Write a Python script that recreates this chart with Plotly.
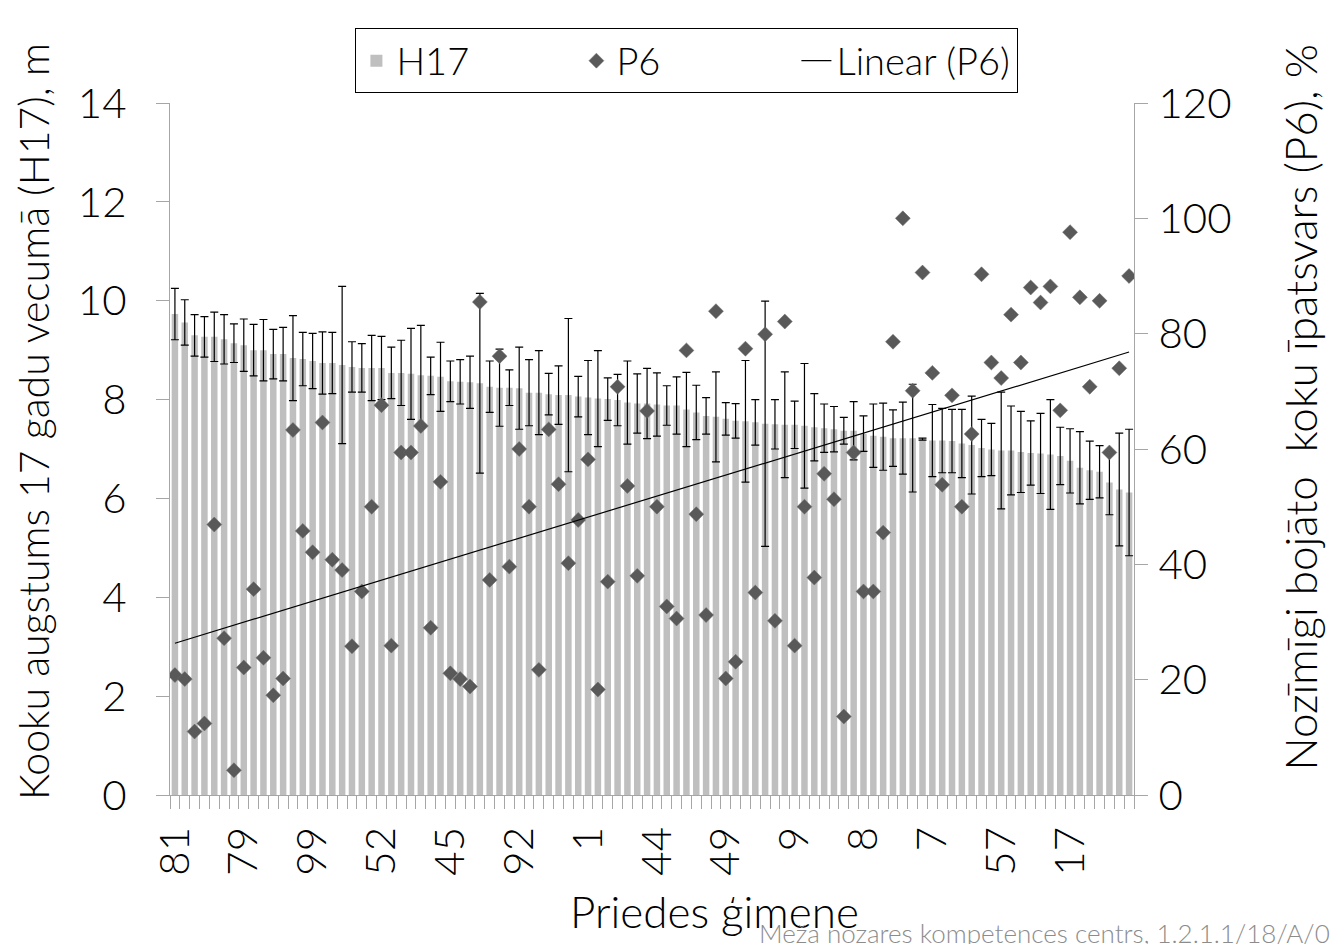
import numpy as np
import plotly.graph_objects as go

# ---- data ----
h17 = [9.73, 9.56, 9.30, 9.27, 9.27, 9.22, 9.14, 9.10, 9.00, 9.00,
       8.92, 8.92, 8.84, 8.82, 8.78, 8.74, 8.74, 8.70, 8.66, 8.64,
       8.64, 8.64, 8.54, 8.54, 8.52, 8.49, 8.48, 8.46, 8.37, 8.36,
       8.35, 8.33, 8.26, 8.24, 8.24, 8.23, 8.14, 8.14, 8.11, 8.09,
       8.09, 8.06, 8.04, 8.02, 8.01, 7.99, 7.94, 7.92, 7.92, 7.90,
       7.88, 7.88, 7.80, 7.74, 7.67, 7.65, 7.61, 7.57, 7.56, 7.54,
       7.51, 7.50, 7.49, 7.49, 7.47, 7.44, 7.42, 7.40, 7.37, 7.37,
       7.31, 7.27, 7.25, 7.22, 7.22, 7.22, 7.20, 7.17, 7.17, 7.16,
       7.11, 7.08, 7.02, 6.99, 6.97, 6.97, 6.94, 6.92, 6.91, 6.89,
       6.86, 6.76, 6.62, 6.57, 6.54, 6.32, 6.18, 6.12]

h17_err = [0.52, 0.46, 0.42, 0.41, 0.50, 0.50, 0.39, 0.53, 0.52, 0.62,
           0.50, 0.54, 0.86, 0.54, 0.56, 0.63, 0.62, 1.59, 0.51, 0.49,
           0.66, 0.64, 0.52, 0.66, 0.92, 1.01, 0.38, 0.70, 0.41, 0.45,
           0.53, 1.82, 0.52, 0.78, 0.36, 0.83, 0.67, 0.85, 0.42, 0.59,
           1.55, 0.41, 0.75, 0.97, 0.43, 0.52, 0.84, 0.60, 0.71, 0.64,
           0.40, 0.58, 0.75, 0.55, 0.37, 0.91, 0.33, 0.35, 1.23, 0.46,
           2.48, 0.50, 1.07, 0.48, 1.26, 0.68, 0.49, 0.46, 0.27, 0.59,
           0.36, 0.64, 0.68, 0.57, 0.73, 1.09, 0.02, 0.73, 0.65, 0.64,
           0.69, 0.99, 0.58, 0.53, 1.18, 0.90, 0.82, 0.65, 0.81, 1.11,
           0.58, 0.65, 0.73, 0.59, 0.53, 0.65, 1.14, 1.28]

p6 = [20.8, 20.1, 11.0, 12.4, 46.9, 27.2, 4.3, 22.1, 35.7, 23.8,
      17.3, 20.2, 63.3, 45.8, 42.1, 64.6, 40.8, 39.0, 25.8, 35.3,
      50.0, 67.6, 25.9, 59.4, 59.4, 64.0, 29.0, 54.3, 21.1, 20.1,
      18.8, 85.5, 37.3, 76.1, 39.6, 60.0, 50.0, 21.7, 63.4, 53.9,
      40.2, 47.7, 58.2, 18.3, 37.0, 70.8, 53.6, 38.0, 66.6, 50.0,
      32.7, 30.6, 77.1, 48.7, 31.2, 83.9, 20.2, 23.1, 77.4, 35.1,
      79.9, 30.2, 82.1, 25.9, 50.0, 37.7, 55.7, 51.3, 13.6, 59.4,
      35.3, 35.3, 45.5, 78.6, 100.0, 70.1, 90.6, 73.2, 53.8, 69.3,
      50.0, 62.6, 90.3, 75.0, 72.3, 83.3, 75.0, 88.0, 85.4, 88.2,
      66.7, 97.6, 86.3, 70.8, 85.7, 59.4, 74.0, 90.0]

# family labels shown on the axis (every 7th family)
tick_labels = ["81", "79", "99", "52", "45", "92", "1", "44", "49", "9", "8", "7", "57", "17"]
label_step = 7

n = len(h17)
x = np.arange(n)
tick_pos = list(range(0, label_step * len(tick_labels), label_step))

# linear trend of P6 (least squares)
slope, intercept = np.polyfit(x, np.array(p6), 1)
trend_x = [x[0], x[-1]]
trend_y = [intercept + slope * v for v in trend_x]

FONT = "Lato"
tick_fs = 42

fig = go.Figure()
fig.add_trace(go.Bar(
    x=x, y=h17, name="H17",
    marker=dict(color="#BFBFBF", line=dict(width=0)),
    error_y=dict(type="data", array=h17_err, visible=True,
                 color="#000000", thickness=1.2, width=4),
))
fig.add_trace(go.Scatter(
    x=x, y=p6, name="P6", mode="markers", yaxis="y2",
    marker=dict(symbol="diamond", size=11.5, color="#595959",
                line=dict(color="#6a6a6a", width=0.5)),
))
fig.add_trace(go.Scatter(
    x=trend_x, y=trend_y, name="Linear (P6)", mode="lines", yaxis="y2",
    line=dict(color="#000000", width=1.2),
))

axis_col = "#A6A6A6"
# the page body adds an 8 px offset, so the figure is 8 px smaller than the window
fig.update_layout(
    width=1331, height=936,
    margin=dict(l=162, r=205, t=95, b=149, autoexpand=False),
    paper_bgcolor="white", plot_bgcolor="white",
    font=dict(family=FONT, size=tick_fs, color="#000000", weight=300),
    bargap=0.34,
    showlegend=True,
    legend=dict(orientation="h", x=0.536, xanchor="center", y=1.108, yanchor="top",
                bordercolor="#000000", borderwidth=1.2, bgcolor="white",
                entrywidth=175, entrywidthmode="pixels",
                font=dict(family=FONT, size=38, weight=300), traceorder="normal"),
    xaxis=dict(
        range=[-0.5, n - 0.5], showgrid=False, zeroline=False,
        showline=True, linecolor=axis_col, linewidth=1.2,
        tickmode="array", tickvals=tick_pos, ticktext=tick_labels,
        tickangle=-90, ticks="", ticklabelstandoff=14,
        tickfont=dict(family=FONT, size=tick_fs, weight=300),
        minor=dict(tickmode="linear", tick0=-0.5, dtick=1, ticks="outside",
                   ticklen=13, tickcolor=axis_col, tickwidth=1, showgrid=False),
    ),
    yaxis=dict(
        range=[0, 14], dtick=2, tick0=0, showgrid=False, zeroline=False,
        showline=True, linecolor=axis_col, linewidth=1.2,
        ticks="outside", ticklen=13, tickcolor=axis_col,
        tickfont=dict(family=FONT, size=tick_fs, weight=300), ticklabelstandoff=21,
    ),
    yaxis2=dict(
        range=[0, 120], dtick=20, tick0=0, overlaying="y", side="right",
        showgrid=False, zeroline=False,
        showline=True, linecolor=axis_col, linewidth=1.2,
        ticks="outside", ticklen=13, tickcolor=axis_col,
        tickfont=dict(family=FONT, size=tick_fs, weight=300), ticklabelstandoff=2,
    ),
    annotations=[
        dict(text="Kooku augstums 17 gadu vecumā (H17), m", textangle=-90,
             xref="paper", yref="paper", x=-0.142, y=0.539,
             xanchor="center", yanchor="middle", showarrow=False,
             font=dict(family=FONT, size=41, weight=300)),
        dict(text="Nozīmīgi bojāto\u00a0 koku īpatsvars (P6), %", textangle=-90,
             xref="paper", yref="paper", x=1.172, y=0.561,
             xanchor="center", yanchor="middle", showarrow=False,
             font=dict(family=FONT, size=44, weight=300)),
        dict(text="Priedes ģimene",
             xref="paper", yref="paper", x=0.565, y=-0.168,
             xanchor="center", yanchor="middle", showarrow=False,
             font=dict(family=FONT, size=44, weight=300)),
        dict(text="Meža nozares kompetences centrs, 1.2.1.1/18/A/0",
             xref="paper", yref="paper", x=0.609, y=-0.2,
             xanchor="left", yanchor="middle", showarrow=False,
             font=dict(family=FONT, size=26, color="#8C8C8C", weight=300)),
    ],
)

fig.write_html("out.html")
